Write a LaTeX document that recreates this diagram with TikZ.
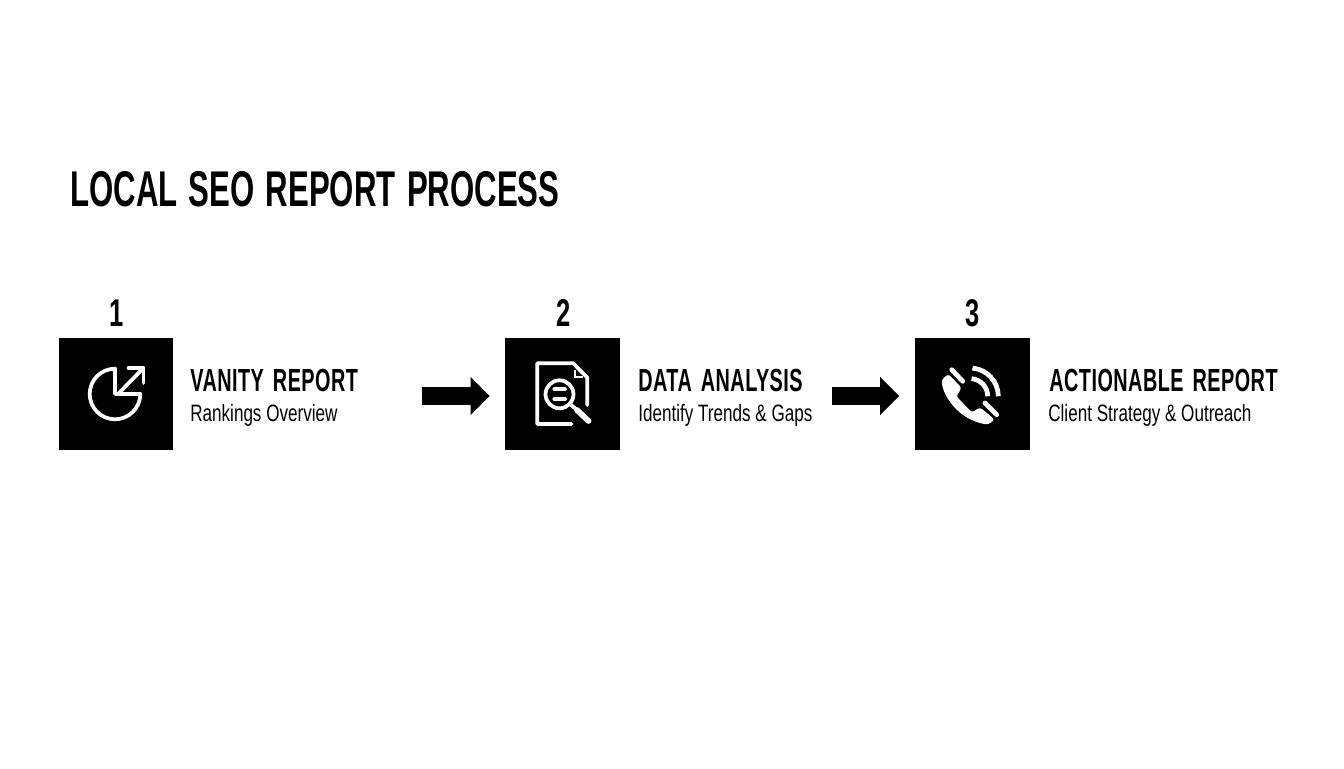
\documentclass[tikz,border=0pt]{standalone}
\usepackage{fontspec}
\usetikzlibrary{calc,arrows.meta}
\newfontfamily\numfont[FakeStretch=0.66]{Liberation Sans}
\newfontfamily\titlefont[FakeStretch=0.62,WordSpace=1.3]{Liberation Sans}
\newfontfamily\headfont[FakeStretch=0.62,LetterSpace=1.5,WordSpace=1.5]{Liberation Sans}
\newfontfamily\subfont[FakeStretch=0.72]{Liberation Sans}
\def\centerarc[#1](#2)(#3:#4:#5){\draw[#1] ($(#2)+({#5*cos(#3)},{#5*sin(#3)})$) arc (#3:#4:#5);}
\tikzset{
	iconbox/.style={fill=black, minimum width=23mm, minimum height=22.4mm, inner sep=0},
	numlabel/.style={anchor=base, inner sep=0, font=\numfont\bfseries\fontsize{22}{24}\selectfont},
	titlelabel/.style={anchor=base west, inner sep=0, font=\titlefont\bfseries\fontsize{28.6}{32}\selectfont},
	headlabel/.style={anchor=base west, inner sep=0, font=\headfont\bfseries\fontsize{18.2}{20}\selectfont},
	sublabel/.style={anchor=base west, inner sep=0, font=\subfont\fontsize{13.5}{16}\selectfont},
	iconline/.style={draw=white, line width=0.75mm, line join=round, line cap=round},
	flowarrow/.style={line width=3.6mm, -{Triangle[length=3.8mm,width=7.4mm]}, shorten >=3mm}
}

\begin{document}
\begin{tikzpicture}[x=0.02cm, y=0.02cm]
			%%%%% START %%%%%
			\useasboundingbox (0, 0) rectangle (1344, 768);
			
			\node[titlelabel] (title) at (70, 561) {LOCAL SEO REPORT PROCESS};
			
			\node[iconbox] (box1) at (116, 374) {};
			\node[iconbox] (box2) at (562.5, 374) {};
			\node[iconbox] (box3) at (972, 374) {};
			
			\node[numlabel] (num1) at (117, 441) {1};
			\node[numlabel] (num2) at (564, 441) {2};
			\node[numlabel] (num3) at (973, 441) {3};
			
			\node[headlabel] (head1) at (190, 377) {VANITY REPORT};
			\node[sublabel] (sub1) at (190, 347) {Rankings Overview};
			\node[headlabel] (head2) at (638, 377) {DATA ANALYSIS};
			\node[sublabel] (sub2) at (638, 347) {Identify Trends \& Gaps};
			\node[headlabel] (head3) at (1049, 377) {ACTIONABLE REPORT};
			\node[sublabel] (sub3) at (1048, 347) {Client Strategy \& Outreach};
			
			\coordinate (start1) at (421.5, 372);
			\coordinate (start2) at (831.5, 372);
			\draw[flowarrow] (start1) -- (box2.west |- start1);
			\draw[flowarrow] (start2) -- (box3.west |- start2);
			
			% pie
			\centerarc[iconline](115, 374)(90:360:25.3);
			\draw[iconline] (115, 399.3) -- (115, 374) -- (140.3, 374);
			\draw[iconline] (119, 375) -- (143, 399.5);
			\draw[iconline] (128.5, 400) -- (143.5, 400) -- (143.5, 385);
			
			% report
			\draw[iconline] (571.5, 344) -- (537.3, 344) -- (537.3, 404.7) -- (573.3, 404.7) -- (587.3, 390.3) -- (587.3, 363);
			\draw[white, line width=0.45mm] (575, 398) -- (575, 391) -- (582.5, 391);
			\draw[iconline] (559.5, 373.7) circle (14);
			\draw[iconline] (554.3, 378.7) -- (565, 378.7);
			\draw[iconline] (554.3, 369) -- (565, 369);
			\draw[iconline] (570, 364) -- (577, 358);
			\draw[iconline, line width=1.15mm] (577, 358) -- (588.5, 347);
			
			% phone
			\draw[white, fill=white, line width=0.2mm, rounded corners=0.5mm] (942.3, 388.3) .. controls (943, 372) and (960, 348) .. (988, 344) -- (994, 348.3) -- (980, 360) -- (971.7, 355) -- (955.7, 371.7) -- (961, 380) -- (948.3, 393.3) -- cycle;
			\draw[iconline, line width=0.95mm] (951.7, 398.3) -- (962.7, 386.7);
			\draw[iconline, line width=0.95mm] (985, 365) -- (996.7, 353.3);
			\centerarc[iconline, line width=0.95mm, line cap=butt](970, 371.7)(85:0:28.3);
			\centerarc[iconline, line width=0.95mm, line cap=butt](970, 371.7)(85:0:17.7);
			
			%%%%% END %%%%%
		\end{tikzpicture}
\end{document}
